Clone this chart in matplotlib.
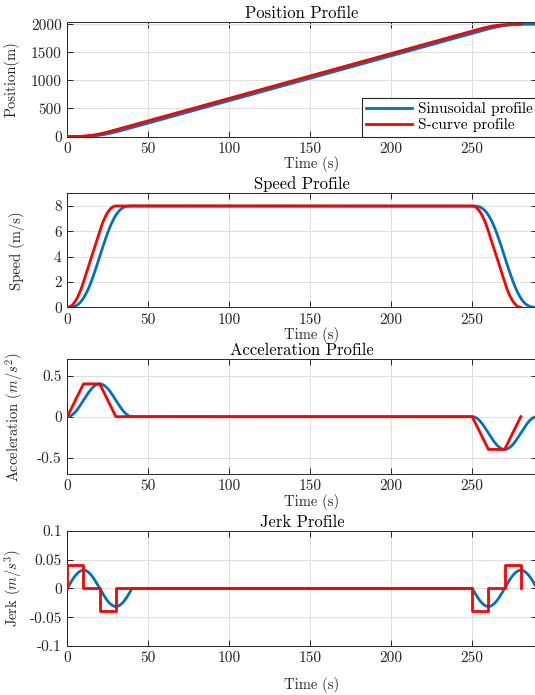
import numpy as np
import matplotlib
matplotlib.use("Agg")
import matplotlib.pyplot as plt

plt.rcParams['font.family'] = 'serif'
plt.rcParams['font.serif'] = ['cmr10']
plt.rcParams['mathtext.fontset'] = 'cm'
plt.rcParams['axes.unicode_minus'] = False

# ---------------- data ----------------
# S-curve profile: jerk steps between break times
scurve_breaks = [0, 10, 20, 30, 250, 260, 270, 280]
scurve_jerk = [0.04, 0.0, -0.04, 0.0, -0.04, 0.0, 0.04]
# Sinusoidal profile: acceleration phases (start, end, peak acceleration)
sin_phase_start = [0, 250]
sin_phase_end = [40, 290]
sin_peak_accel = [0.4, -0.4]
sin_t_end = 290

titles = ["Position Profile", "Speed Profile", "Acceleration Profile", "Jerk Profile"]
ylabels = ["Position(m)", "Speed (m/s)", r"Acceleration $(m/s^2)$", r"Jerk $(m/s^3)$"]
xlabel = "Time (s)"
legend_labels = ["Sinusoidal profile", "S-curve profile"]
xticks = [0, 50, 100, 150, 200, 250]
yticks = [[0, 500, 1000, 1500, 2000], [0, 2, 4, 6, 8], [-0.5, 0, 0.5],
          [-0.1, -0.05, 0, 0.05, 0.1]]
yticklabels = [["0", "500", "1000", "1500", "2000"], ["0", "2", "4", "6", "8"],
               ["-0.5", "0", "0.5"], ["-0.1", "-0.05", "0", "0.05", "0.1"]]
ylims = [(0, 2040), (0, 9), (-0.7, 0.7), (-0.1, 0.1)]
xlim = (0, 290)

# ---------------- derived profiles ----------------
def cumtrapz(y, t):
    out = np.zeros_like(y)
    out[1:] = np.cumsum(0.5 * (y[1:] + y[:-1]) * np.diff(t))
    return out

# S-curve
sb = np.array(scurve_breaks, float)
sj = np.array(scurve_jerk, float)
acc_at_breaks = np.concatenate([[0.0], np.cumsum(sj * np.diff(sb))])
t_s = np.linspace(sb[0], sb[-1], 5601)
a_s = np.interp(t_s, sb, acc_at_breaks)
v_s = cumtrapz(a_s, t_s)
p_s = cumtrapz(v_s, t_s)
# step representation of jerk
jx = [sb[0]]
jy = [0.0]
for i in range(len(sj)):
    jx += [sb[i], sb[i + 1]]
    jy += [sj[i], sj[i]]
jx += [sb[-1]]
jy += [0.0]

# Sinusoidal
t_b = np.linspace(0, sin_t_end, 5801)
a_b = np.zeros_like(t_b)
j_b = np.zeros_like(t_b)
for t0, t1, pk in zip(sin_phase_start, sin_phase_end, sin_peak_accel):
    T = t1 - t0
    m = (t_b >= t0) & (t_b <= t1)
    ph = 2 * np.pi * (t_b[m] - t0) / T
    a_b[m] = pk / 2 * (1 - np.cos(ph))
    j_b[m] = pk / 2 * (2 * np.pi / T) * np.sin(ph)
v_b = cumtrapz(a_b, t_b)
p_b = cumtrapz(v_b, t_b)

blue_series = [(t_b, p_b), (t_b, v_b), (t_b, a_b), (t_b, j_b)]
red_series = [(t_s, p_s), (t_s, v_s), (sb, acc_at_breaks), (jx, jy)]

# ---------------- figure ----------------
W, H = 535, 695
fig = plt.figure(figsize=(W / 100, H / 100), dpi=100)
axes_px = [(22, 136.5), (193.3, 307.3), (359.3, 474), (530.7, 646)]
left_px, right_px = 67.3, 537.0
blue = '#0072BD'
red = '#FF0000'
axc = '#262626'
ylab_x = [20, 25, 25, 24]
xlab_top = [155.5, 327, 494, 677]
xlab_cx = 312

for i, (top, bot) in enumerate(axes_px):
    ax = fig.add_axes([left_px / W, 1 - bot / H, (right_px - left_px) / W, (bot - top) / H])
    ax.plot(*blue_series[i], color=blue, lw=2.0, label=legend_labels[0], zorder=3)
    ax.plot(*red_series[i], color=red, lw=2.0, label=legend_labels[1], zorder=4)
    ax.set_xlim(*xlim)
    ax.set_ylim(*ylims[i])
    ax.set_xticks(xticks)
    ax.set_xticklabels([str(x) for x in xticks])
    ax.set_yticks(yticks[i])
    ax.set_yticklabels(yticklabels[i])
    ax.tick_params(direction='in', length=4, width=0.7, colors=axc, labelsize=11,
                   top=True, right=True, pad=4)
    for s in ax.spines.values():
        s.set_color(axc)
        s.set_linewidth(0.7)
    ax.grid(True, color='#dedede', lw=0.7)
    ax.set_axisbelow(True)
    ax.set_title(titles[i], fontsize=12, pad=3, color='black')
    ax.set_ylabel(ylabels[i], fontsize=10.5, color=axc)
    ax.set_xlabel(xlabel, fontsize=10.5, color=axc)
    hpx = bot - top
    wpx = right_px - left_px
    ax.yaxis.set_label_coords((ylab_x[i] - left_px) / wpx, 0.5)
    ax.xaxis.set_label_coords((xlab_cx - left_px) / wpx, -(xlab_top[i] - bot) / hpx)
    if i == 0:
        leg = ax.legend(loc='lower right', bbox_to_anchor=(1, 0), borderaxespad=0,
                        fontsize=11, frameon=True, fancybox=False, handlelength=3.0,
                        handletextpad=0.35, labelspacing=0.1, borderpad=0.3)
        leg.get_frame().set_edgecolor(axc)
        leg.get_frame().set_linewidth(0.8)
        leg.get_frame().set_alpha(1)

fig.savefig("out.png", dpi=100)
